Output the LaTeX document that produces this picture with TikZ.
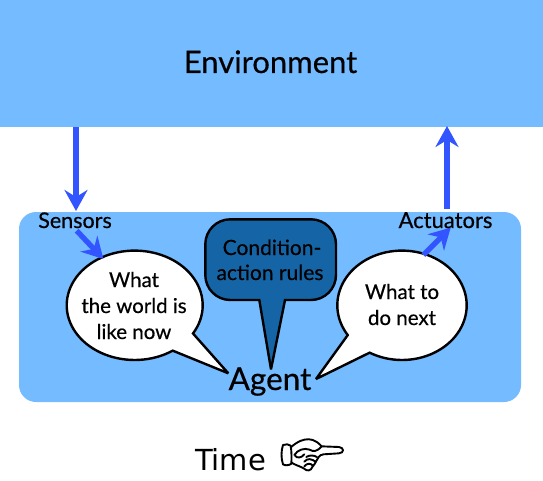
\documentclass[tikz,border=0pt]{standalone}
\usepackage{fontspec}
\setmainfont{Lato}
\newfontfamily\heavyfont[FakeBold=0.45]{Lato}
\newfontfamily\timefont{DejaVu Sans}
\definecolor{panel}{HTML}{74BBFF}
\definecolor{rules}{HTML}{1565A6}
\definecolor{flow}{HTML}{3355FF}
\usetikzlibrary{arrows.meta}
\newcommand{\pxfont}[1]{\heavyfont\fontsize{#1}{#1}\selectfont}
\tikzset{
  panelbox/.style={fill=panel,draw=none},
  balloon/.style={draw=black,line width=2.4pt,line join=miter,miter limit=3},
  flowarrow/.style={draw=flow,line width=5.3pt,-{Stealth[length=21pt,width=23pt,inset=7pt]},shorten >=-1pt},
  lbl/.style={anchor=base,align=center,inner sep=0pt,text=black},
  handline/.style={draw=black,line width=1.9pt,line cap=round,line join=round},
}
\begin{document}
\begin{tikzpicture}[x=1pt,y=-1pt]
\useasboundingbox (0,0) rectangle (543,481);
\fill[panelbox] (0,0) rectangle (543,127);
\fill[panelbox,rounded corners=17pt] (19,212) rectangle (521,402);

% balloons
\draw[balloon,fill=white] plot[domain=56:391,samples=90] ({134.7+68*cos(\x)},{305.3+54.7*sin(\x)}) -- (228.3,373.3) -- cycle;
\draw[balloon,fill=white] plot[domain=147:480,samples=90] ({402+64.7*cos(\x)},{305.3+54.7*sin(\x)}) -- (316,379) -- cycle;
\draw[balloon,fill=rules] (259.3,300) -- (230.3,300) .. controls (216.5,300) and (205.3,288.8) .. (205.3,275) -- (205.3,244.3) .. controls (205.3,230.5) and (216.5,219.3) .. (230.3,219.3) -- (311,219.3) .. controls (324.8,219.3) and (336,230.5) .. (336,244.3) -- (336,275) .. controls (336,288.8) and (324.8,300) .. (311,300) -- (285,300) -- (271,369.3) -- cycle;

% named ends
\coordinate (envdown) at (76,127);
\coordinate (sensin) at (76,210);
\coordinate (sensout) at (76.7,230.7);
\coordinate (worldin) at (102.7,258.3);
\coordinate (nextout) at (423.3,255);
\coordinate (actin) at (450,228.3);
\coordinate (actout) at (447,209);
\coordinate (envup) at (447,127);

\draw[flowarrow] (envdown) -- (sensin);
\draw[flowarrow] (sensout) -- (worldin);
\draw[flowarrow] (nextout) -- (actin);
\draw[flowarrow] (actout) -- (envup);

\node[lbl] (environment) at (270.5,73) {\pxfont{31}Environment};
\node[lbl] (sensors) at (75,228) {\pxfont{21.5}Sensors};
\node[lbl] (actuators) at (445.5,228) {\pxfont{22}Actuators};
\node[lbl] (world1) at (134,287) {\pxfont{20.5}What};
\node[lbl] (world2) at (134,313) {\pxfont{20.5}the world is};
\node[lbl] (world3) at (134,339) {\pxfont{20.5}like now};
\node[lbl] (cond1) at (272,255) {\pxfont{21}Condition-};
\node[lbl] (cond2) at (270,280) {\pxfont{21}action rules};
\node[lbl] (next1) at (402,299) {\pxfont{20.5}What to};
\node[lbl] (next2) at (402,325) {\pxfont{20.5}do next};
\node[lbl] (agent) at (270,390) {\pxfont{31.5}Agent};
\node[lbl] (time) at (230.5,470) {\timefont\fontsize{29}{29}\selectfont Time};

% pointing hand
\begin{scope}[shift={(275,435)},x=0.3333pt,y=-0.3333pt]
\draw[handline,fill=white] (46,38) .. controls (58,28) and (70,18) .. (88,14) .. controls (105,10) and (122,14) .. (140,34)
  -- (192,36) .. controls (208,38) and (208,54) .. (192,55) -- (145,58) .. controls (132,60) and (130,68) .. (125,76)
  .. controls (122,86) and (115,90) .. (112,96) .. controls (108,108) and (96,110) .. (86,100)
  .. controls (76,94) and (60,90) .. (48,82) -- cycle;
\draw[handline,fill=white] (24,30) .. controls (32,26) and (42,28) .. (47,32) .. controls (50,50) and (50,70) .. (49,86) .. controls (42,92) and (30,92) .. (24,88) .. controls (18,70) and (18,48) .. (24,30) -- cycle;
\draw[handline] (58,60) .. controls (68,44) and (88,38) .. (104,44) .. controls (114,50) and (124,52) .. (140,34);
\draw[handline] (60,62) .. controls (66,70) and (78,70) .. (88,58);
\draw[handline] (94,66) .. controls (102,60) and (116,60) .. (126,66);
\draw[handline] (88,80) .. controls (98,68) and (110,72) .. (122,80);
\draw[handline] (88,94) .. controls (96,84) and (106,84) .. (114,92);
\end{scope}
\end{tikzpicture}
\end{document}
